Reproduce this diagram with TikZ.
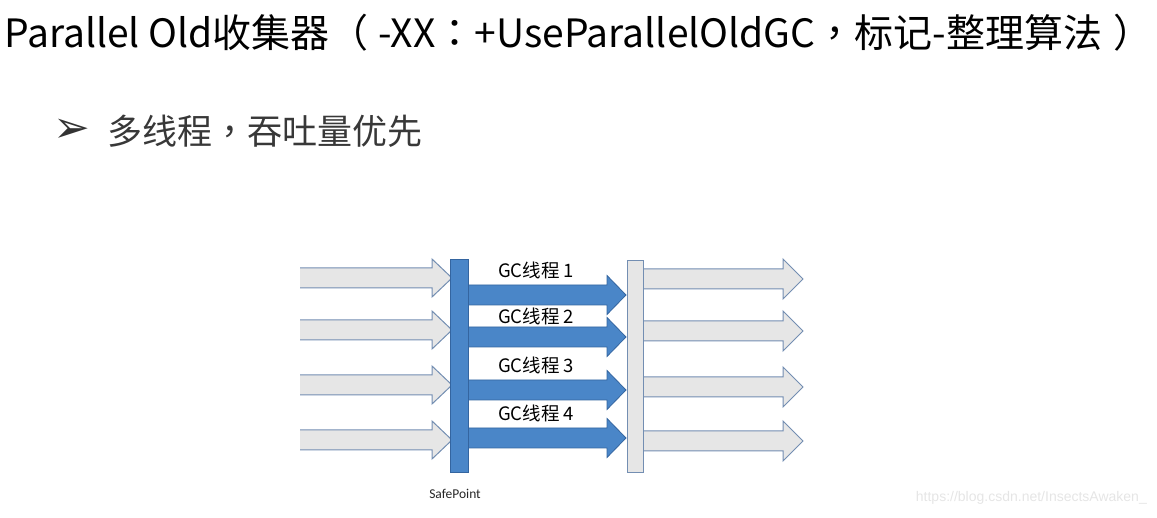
\documentclass[tikz,border=0pt]{standalone}
\usepackage{fontspec}
\setmainfont{Noto Sans CJK SC}
\newfontfamily\tcpunct{Noto Sans CJK TC}
\newfontfamily\dejavu{DejaVu Sans}
\newfontfamily\calibri{Carlito}
\newfontfamily\arial{Liberation Sans}
\usetikzlibrary{positioning}
\newcommand{\pc}[1]{{\tcpunct #1}}
\definecolor{gcblue}{RGB}{74,134,200}
\definecolor{gcblueline}{RGB}{52,101,160}
\definecolor{flowgray}{RGB}{230,230,230}
\definecolor{flowline}{RGB}{115,142,178}
\tikzset{
  flowarrow/.style={fill=flowgray, draw=flowline, line width=1pt},
  gcarrow/.style={fill=gcblue, draw=gcblueline, line width=0.8pt},
  gclabel/.style={inner sep=0, font=\fontsize{18.5}{20}\selectfont},
}
\begin{document}
\begin{tikzpicture}[x=1pt, y=-1pt]
\useasboundingbox (0,0) rectangle (1157,518);
% Titel und Stichpunkt
\node[anchor=base west, inner sep=0, font=\fontsize{39}{44}\selectfont] (title) at (4,48) {Parallel Old收集器\pc{（}\hspace{0.25em}-XX\pc{：}+UseParallelOldGC\pc{，}标记-整理算法\hspace{0.3em}\pc{）}};
\node[inner sep=0, font=\dejavu\fontsize{44}{46}\selectfont, text=black!80] (bullet) at (72,131) {➢};
\node[anchor=west, inner sep=0, font=\fontsize{35}{38}\selectfont, text=black!78] (point) at (107,131) {多线程\pc{，}吞吐量优先};
% Anwendungsthreads vor dem SafePoint
\foreach \y in {278,330,385,440}
  \draw[flowarrow] (300,\y-10) -- (432,\y-10) -- (432,\y-19) -- (452,\y) -- (432,\y+19) -- (432,\y+10) -- (300,\y+10);
% GC Threads
\foreach \y in {295,337,390,438}
  \draw[gcarrow] (468,\y-10) -- (607,\y-10) -- (607,\y-19.5) -- (626,\y) -- (607,\y+19.5) -- (607,\y+10) -- (468,\y+10);
% Anwendungsthreads danach
\foreach \y in {279,331,387,441}
  \draw[flowarrow] (643,\y-10) -- (783,\y-10) -- (783,\y-20) -- (803,\y) -- (783,\y+20) -- (783,\y+10) -- (643,\y+10);
% Balken
\node[draw=gcblueline, fill=gcblue, line width=0.8pt, minimum width=18, minimum height=213, inner sep=0, anchor=north west] (sp) at (450,259) {};
\node[draw=flowline, fill=flowgray, line width=1pt, minimum width=16, minimum height=212, inner sep=0, anchor=north west] (rb) at (627,260) {};
\foreach \i/\y in {1/270,2/316,3/365,4/413}
  \node[gclabel] (gc\i) at (536,\y) {GC线程 \i};
\node[inner sep=0, font=\calibri\fontsize{13.5}{15}\selectfont, text=black!85] (splabel) at (455,494) {SafePoint};
\node[anchor=east, inner sep=0, font=\arial\fontsize{14}{16}\selectfont, text=black!10] (mark) at (1147,498) {https://blog.csdn.net/InsectsAwaken\_};
\end{tikzpicture}
\end{document}
